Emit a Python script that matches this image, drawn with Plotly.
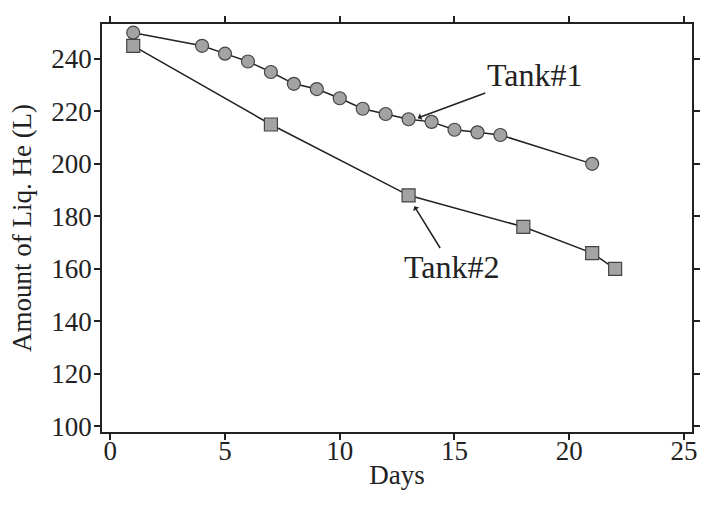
import plotly.graph_objects as go

tank1_days = [1, 4, 5, 6, 7, 8, 9, 10, 11, 12, 13, 14, 15, 16, 17, 21]
tank1_he = [250, 245, 242, 239, 235, 230.5, 228.5, 225, 221, 219, 217, 216, 213, 212, 211, 200]

tank2_days = [1, 7, 13, 18, 21, 22]
tank2_he = [245, 215, 188, 176, 166, 160]

x_ticks = [0, 5, 10, 15, 20, 25]
y_ticks = [100, 120, 140, 160, 180, 200, 220, 240]

FONT = "Liberation Serif, Times New Roman, serif"

fig = go.Figure()
fig.add_trace(go.Scatter(
    x=tank1_days, y=tank1_he, mode="lines+markers", name="Tank#1",
    line=dict(color="#222222", width=1.5),
    marker=dict(symbol="circle", size=13, color="#a3a3a3",
                line=dict(color="#444444", width=1.2)),
))
fig.add_trace(go.Scatter(
    x=tank2_days, y=tank2_he, mode="lines+markers", name="Tank#2",
    line=dict(color="#222222", width=1.5),
    marker=dict(symbol="square", size=13, color="#a3a3a3",
                line=dict(color="#444444", width=1.2)),
))

fig.add_annotation(
    x=13.4, y=217.5, xref="x", yref="y",
    ax=18.5, ay=234.0, axref="x", ayref="y",
    text="Tank#1", showarrow=True, arrowhead=1, arrowsize=0.8,
    arrowwidth=1.5, arrowcolor="#222222",
    font=dict(family=FONT, size=32, color="#222222"),
)
fig.add_annotation(
    x=13.25, y=183.8, xref="x", yref="y",
    ax=14.9, ay=160.5, axref="x", ayref="y",
    text="Tank#2", showarrow=True, arrowhead=1, arrowsize=0.8,
    arrowwidth=1.5, arrowcolor="#222222",
    font=dict(family=FONT, size=32, color="#222222"),
)

axis_common = dict(
    showline=True, linecolor="#222222", linewidth=1.5, mirror="ticks",
    ticks="outside", ticklen=6, tickwidth=1.5, tickcolor="#222222",
    showgrid=False, zeroline=False,
    tickfont=dict(family=FONT, size=27, color="#222222"),
)

fig.update_layout(
    width=706, height=505, autosize=False,
    margin=dict(l=102, r=6, t=24, b=73),
    paper_bgcolor="white", plot_bgcolor="white",
    showlegend=False,
    font=dict(family=FONT, color="#222222"),
    xaxis=dict(range=[-0.36, 25.35], tickvals=x_ticks, ticklabelstandoff=-12,
               automargin="height",
               title=dict(text="Days", font=dict(family=FONT, size=27), standoff=0),
               **axis_common),
    yaxis=dict(range=[97.8, 253.3], tickvals=y_ticks, ticklabelstandoff=-3,
               automargin="width",
               title=dict(text="Amount of Liq. He (L)", font=dict(family=FONT, size=27), standoff=12),
               **axis_common),
)

# remove the default 8px page margin so the 706x505 figure fills the window exactly
fig.write_html(
    "out.html",
    config={"displayModeBar": False},
    post_script="document.body.style.margin='0';document.body.style.overflow='hidden';",
)
